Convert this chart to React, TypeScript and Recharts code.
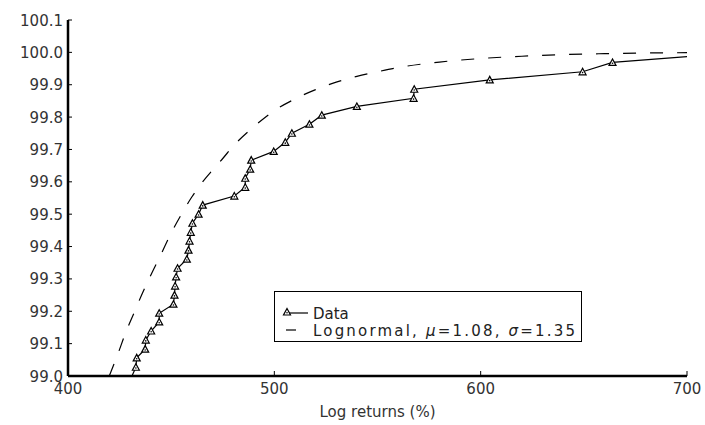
import React from 'react';
import { LineChart, Line, XAxis, YAxis } from 'recharts';

// empirical tail (log returns %, cumulative %)
const dataX = [
  431, 432.9, 433.3, 437.4, 437.7, 440.3, 444.2, 444.2, 451.1, 451.6, 451.9, 452.4, 453.1,
  457.6, 458.4, 458.9, 459.5, 460.3, 463.3, 465.3, 480.6, 485.9, 485.9, 488.3, 488.8, 499.7,
  505.3, 508.5, 517, 523, 540, 567.5, 567.8, 604.4, 649.4, 663.9, 700.3,
];
const dataY = [
  99.0, 99.027, 99.056, 99.083, 99.111, 99.139, 99.167, 99.194, 99.222, 99.25, 99.278, 99.306,
  99.333, 99.361, 99.389, 99.417, 99.444, 99.472, 99.5, 99.528, 99.556, 99.583, 99.611, 99.639,
  99.667, 99.694, 99.722, 99.75, 99.778, 99.806, 99.833, 99.858, 99.886, 99.915, 99.94, 99.969,
  99.987,
];

// fitted lognormal cdf
const fitX = [
  420, 424, 428, 432, 436, 440, 445, 450, 455, 460, 465, 470, 475, 480, 490, 500, 510, 520, 530,
  540, 550, 560, 580, 600, 620, 640, 660, 680, 700,
];
const fitY = [
  99.0, 99.065, 99.135, 99.195, 99.255, 99.31, 99.375, 99.442, 99.5, 99.553, 99.598, 99.636,
  99.672, 99.71, 99.77, 99.82, 99.856, 99.885, 99.908, 99.926, 99.94, 99.953, 99.97, 99.981,
  99.988, 99.993, 99.996, 99.998, 99.999,
];

const xTicks = [400, 500, 600, 700];
const yTicks = [99.0, 99.1, 99.2, 99.3, 99.4, 99.5, 99.6, 99.7, 99.8, 99.9, 100.0, 100.1];

const empirical = dataX.map((x, i) => ({ x, y: dataY[i] }));
const lognormal = fitX.map((x, i) => ({ x, y: fitY[i] }));

const FONT = 'DejaVu Sans, sans-serif';

const Triangle = ({ cx, cy }: { cx: number; cy: number }) => (
  <g>
    <polygon
      points={`${cx - 3.5},${cy + 3} ${cx + 3.5},${cy + 3} ${cx},${cy - 3.5}`}
      fill="#fff"
      stroke="#000"
      strokeWidth={1.2}
    />
    <circle cx={cx} cy={cy + 0.8} r={0.8} fill="#000" />
  </g>
);

const renderDot = (props: any) => {
  const { cx, cy, index } = props;
  if (index === 0 || index === dataX.length - 1) return <g key={`d-${index}`} />;
  return <Triangle key={`d-${index}`} cx={cx} cy={cy} />;
};

const YTick = (props: any) => {
  const { x, y, payload } = props;
  return (
    <g>
      <line x1={x} y1={y} x2={x + 4} y2={y} stroke="#000" strokeWidth={1} />
      <text x={x - 5} y={y} dy={5.5} textAnchor="end" fontSize={15} fontFamily={FONT} fill="#333">
        {payload.value.toFixed(1)}
      </text>
    </g>
  );
};

const XTick = (props: any) => {
  const { x, y, payload } = props;
  return (
    <g>
      <line x1={x} y1={y} x2={x} y2={y - 5} stroke="#000" strokeWidth={1} />
      <text x={x} y={y + 18} textAnchor="middle" fontSize={15} fontFamily={FONT} fill="#333">
        {payload.value}
      </text>
    </g>
  );
};

const LegendBox = () => (
  <div
    style={{
      position: 'absolute',
      left: 274,
      top: 291,
      border: '1px solid #000',
      background: '#fff',
      width: 308,
      height: 51,
      boxSizing: 'border-box',
    }}
  >
    <svg width={306} height={49} style={{ position: 'absolute', left: 0, top: 0 }}>
      <line x1={11} y1={21} x2={33} y2={21} stroke="#000" strokeWidth={1.2} />
      <Triangle cx={12} cy={20} />
      <line x1={11} y1={38} x2={21} y2={38} stroke="#000" strokeWidth={1.2} />
      <text x={38} y={27} fontSize={15} fontFamily={FONT} fill="#222">
        Data
      </text>
      <text x={38} y={44} fontSize={15} fontFamily={FONT} fill="#222" textLength={262} lengthAdjust="spacing">
        Lognormal, <tspan fontStyle="italic">μ</tspan>=1.08, <tspan fontStyle="italic">σ</tspan>=1.35
      </text>
    </svg>
  </div>
);

export default function App() {
  return (
    <div style={{ position: 'absolute', left: 0, top: 0, width: 705, height: 425, background: '#fff' }}>
      <LineChart width={705} height={425} margin={{ top: 20, right: 18, left: 0, bottom: 0 }}>
        <XAxis
          type="number"
          dataKey="x"
          domain={[400, 700]}
          ticks={xTicks}
          allowDataOverflow
          axisLine={{ stroke: '#000', strokeWidth: 2.5 }}
          tickLine={false}
          tickSize={0}
          tickMargin={0}
          tick={<XTick />}
          height={49}
          label={{
            value: 'Log returns (%)',
            position: 'insideBottom',
            offset: 8,
            fontSize: 15,
            fontFamily: FONT,
            fill: '#333',
          }}
        />
        <YAxis
          type="number"
          dataKey="y"
          domain={[99.0, 100.1]}
          ticks={yTicks}
          allowDataOverflow
          axisLine={{ stroke: '#000', strokeWidth: 2.5 }}
          tickLine={false}
          tickSize={0}
          tickMargin={0}
          tick={<YTick />}
          width={68}
        />
        <Line
          data={lognormal}
          dataKey="y"
          type="monotone"
          stroke="#000"
          strokeWidth={1.2}
          strokeDasharray="13 14"
          dot={false}
          isAnimationActive={false}
        />
        <Line
          data={empirical}
          dataKey="y"
          type="linear"
          stroke="#000"
          strokeWidth={1.2}
          dot={renderDot}
          isAnimationActive={false}
        />
      </LineChart>
      <LegendBox />
    </div>
  );
}
